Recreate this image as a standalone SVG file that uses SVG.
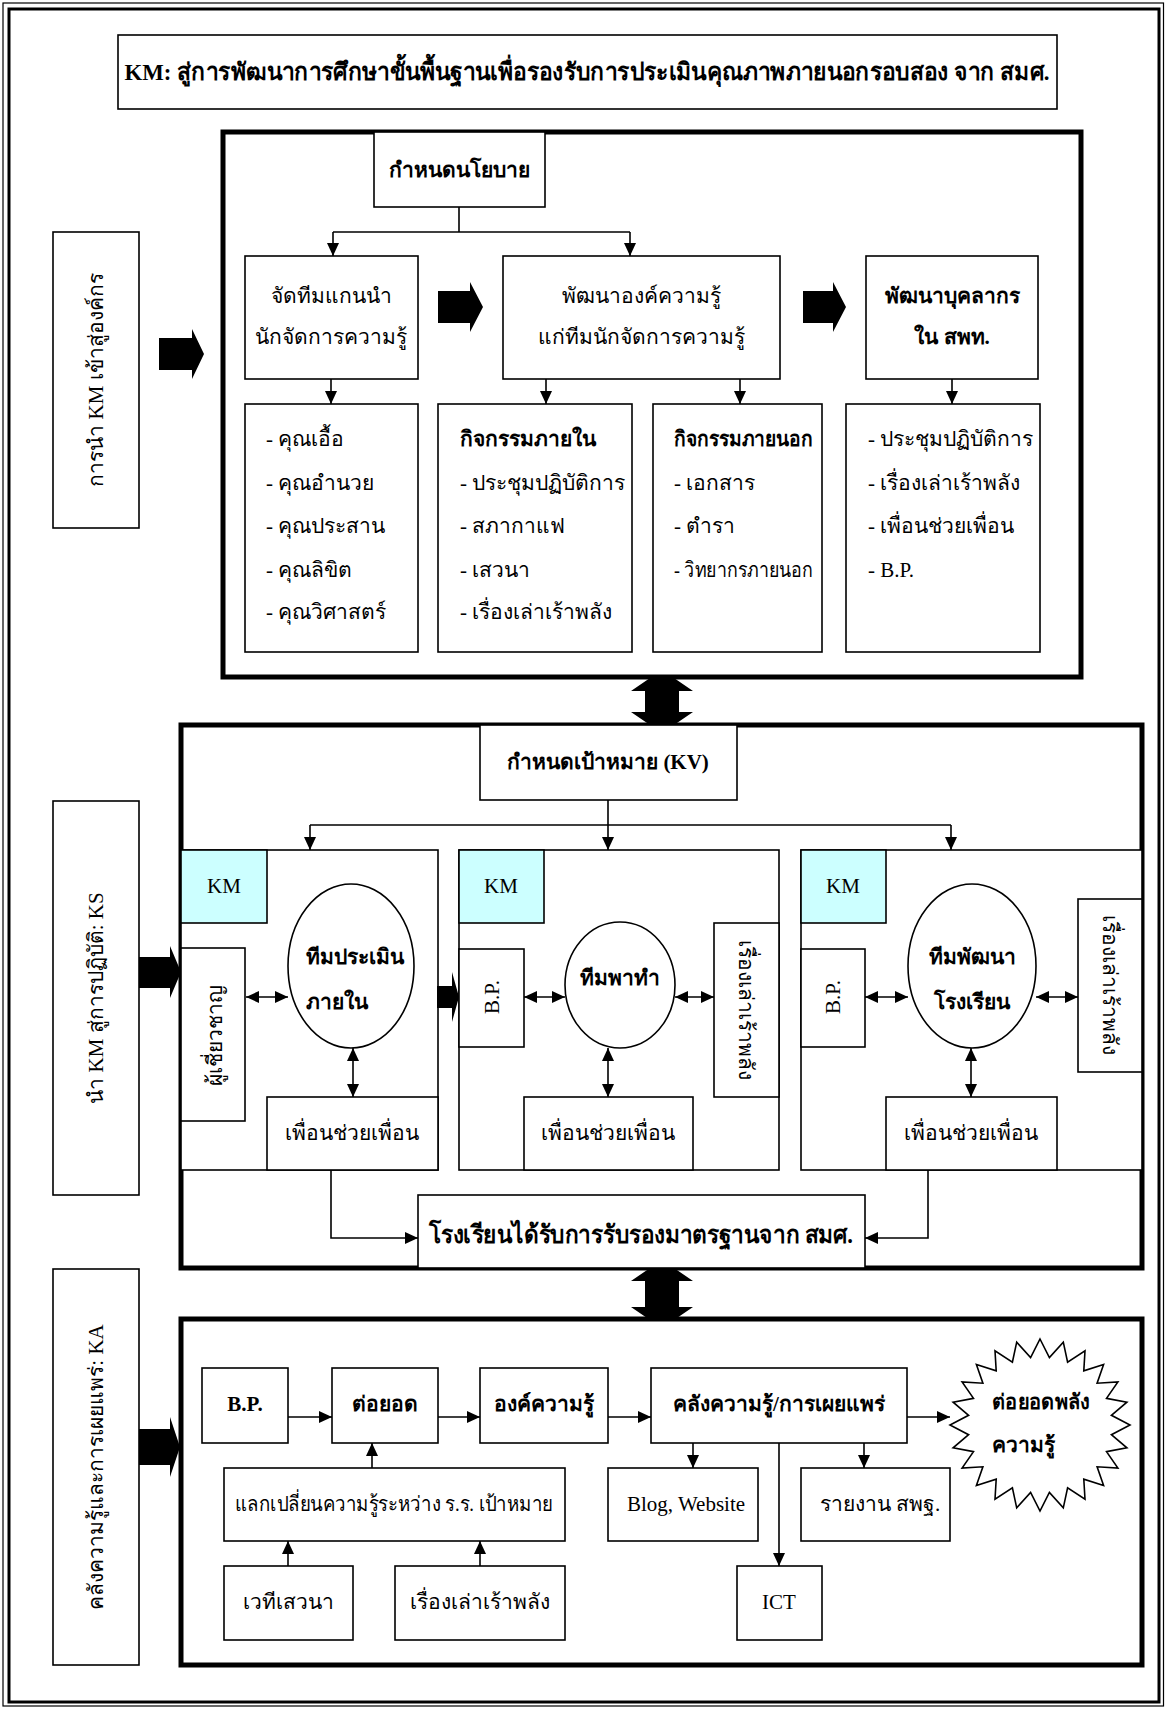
<svg xmlns="http://www.w3.org/2000/svg" width="1166" height="1709" viewBox="0 0 1166 1709">
<style>
.b{fill:#fff;stroke:#000;stroke-width:1.6}
.tk{fill:#fff;stroke:#000;stroke-width:5}
.km{fill:#ccffff;stroke:#000;stroke-width:1.6}
.c{fill:none;stroke:#000;stroke-width:1.6}
.ca{fill:none;stroke:#000;stroke-width:1.6;marker-end:url(#ah)}
.cd{fill:none;stroke:#000;stroke-width:1.6;marker-start:url(#ah);marker-end:url(#ah)}
.ba{fill:#000;stroke:none}
text{font-family:'Liberation Serif',serif;font-size:21px;fill:#000;dominant-baseline:central}
.m{text-anchor:middle}
.bd{font-weight:bold}
</style>
<defs>
<marker id="ah" markerUnits="userSpaceOnUse" markerWidth="13" markerHeight="12" refX="13" refY="6" orient="auto-start-reverse" viewBox="0 0 13 12"><path d="M0,0 L13,6 L0,12 Z" fill="#000"/></marker>
</defs>
<rect x="0" y="0" width="1166" height="1709" fill="#fff"/>
<!-- frame -->
<rect x="3" y="3" width="1160.5" height="1703" fill="none" stroke="#000" stroke-width="1.2"/>
<rect x="9" y="9" width="1150" height="1693" fill="none" stroke="#000" stroke-width="3"/>

<g id="title"><rect class="b" x="118" y="35" width="939" height="74"/><text class="m bd" x="587" y="72" style="font-size:24px" textLength="925" lengthAdjust="spacingAndGlyphs">KM: สู่การพัฒนาการศึกษาขั้นพื้นฐานเพื่อรองรับการประเมินคุณภาพภายนอกรอบสอง จาก สมศ.</text></g>

<!-- Section 1 -->
<g id="label1"><rect class="b" x="53" y="232" width="86" height="296"/><text class="m" transform="translate(96 380) rotate(-90)" x="0" y="0">การนำ KM เข้าสู่องค์กร</text></g>
<g id="sec1"><rect class="tk" x="223" y="132" width="858" height="545"/></g>
<g id="policy"><rect class="b" x="374" y="132" width="171" height="75"/><text class="m bd" x="459" y="170">กำหนดนโยบาย</text></g>
<g id="team"><rect class="b" x="245" y="256" width="173" height="123"/><text class="m" x="331" y="296">จัดทีมแกนนำ</text><text class="m" x="331" y="337">นักจัดการความรู้</text></g>
<g id="devknow"><rect class="b" x="503" y="256" width="277" height="123"/><text class="m" x="641" y="296">พัฒนาองค์ความรู้</text><text class="m" x="641" y="337">แก่ทีมนักจัดการความรู้</text></g>
<g id="devstaff"><rect class="b" x="866" y="256" width="172" height="123"/><text class="m bd" x="952" y="296">พัฒนาบุคลากร</text><text class="m bd" x="952" y="337">ใน สพท.</text></g>
<g id="list1"><rect class="b" x="245" y="404" width="173" height="248"/>
<text x="266" y="439">- คุณเอื้อ</text><text x="266" y="483">- คุณอำนวย</text><text x="266" y="526">- คุณประสาน</text><text x="266" y="570">- คุณลิขิต</text><text x="266" y="612">- คุณวิศาสตร์</text></g>
<g id="list2"><rect class="b" x="438" y="404" width="194" height="248"/>
<text class="bd" x="460" y="439">กิจกรรมภายใน</text><text x="460" y="483">- ประชุมปฏิบัติการ</text><text x="460" y="526">- สภากาแฟ</text><text x="460" y="570">- เสวนา</text><text x="460" y="612">- เรื่องเล่าเร้าพลัง</text></g>
<g id="list3"><rect class="b" x="653" y="404" width="169" height="248"/>
<text class="bd" x="674" y="439" textLength="139" lengthAdjust="spacingAndGlyphs">กิจกรรมภายนอก</text><text x="674" y="483">- เอกสาร</text><text x="674" y="526">- ตำรา</text><text x="674" y="570" textLength="139" lengthAdjust="spacingAndGlyphs">- วิทยากรภายนอก</text></g>
<g id="list4"><rect class="b" x="846" y="404" width="194" height="248"/>
<text x="868" y="439">- ประชุมปฏิบัติการ</text><text x="868" y="483">- เรื่องเล่าเร้าพลัง</text><text x="868" y="526">- เพื่อนช่วยเพื่อน</text><text x="868" y="570">- B.P.</text></g>

<!-- Section 2 -->
<g id="label2"><rect class="b" x="53" y="801" width="86" height="394"/><text class="m" transform="translate(96 998) rotate(-90)" x="0" y="0">นำ KM สู่การปฏิบัติ: KS</text></g>
<g id="sec2"><rect class="tk" x="181" y="725" width="961" height="543"/></g>
<g id="kv"><rect class="b" x="480" y="725" width="257" height="75"/><text class="m bd" x="608" y="762">กำหนดเป้าหมาย (KV)</text></g>
<g id="panel1"><rect class="b" x="181" y="850" width="257" height="320"/><rect class="km" x="181" y="850" width="86" height="73"/><text class="m" x="224" y="886">KM</text></g>
<g id="panel2"><rect class="b" x="459" y="850" width="320" height="320"/><rect class="km" x="459" y="850" width="85" height="73"/><text class="m" x="501" y="886">KM</text></g>
<g id="panel3"><rect class="b" x="801" y="850" width="341" height="320"/><rect class="km" x="801" y="850" width="85" height="73"/><text class="m" x="843" y="886">KM</text></g>
<g id="expert"><rect class="b" x="181" y="948" width="64" height="173"/><text class="m" transform="translate(215 1035) rotate(-90)" x="0" y="0">ผู้เชี่ยวชาญ</text></g>
<g id="evalteam"><ellipse class="b" cx="351" cy="966" rx="63" ry="82"/><text class="bd" x="306" y="957">ทีมประเมิน</text><text class="bd" x="306" y="1002">ภายใน</text></g>
<g id="peer1"><rect class="b" x="267" y="1097" width="171" height="73"/><text class="m" x="352" y="1133">เพื่อนช่วยเพื่อน</text></g>
<g id="bp2"><rect class="b" x="459" y="949" width="65" height="98"/><text class="m" transform="translate(492 997) rotate(-90)" x="0" y="0">B.P.</text></g>
<g id="leadteam"><ellipse class="b" cx="620" cy="985" rx="55" ry="63"/><text class="m bd" x="620" y="978">ทีมพาทำ</text></g>
<g id="story2"><rect class="b" x="714" y="923" width="65" height="174"/><text class="m" transform="translate(746 1010) rotate(90)" x="0" y="0">เรื่องเล่าเร้าพลัง</text></g>
<g id="peer2"><rect class="b" x="524" y="1097" width="169" height="73"/><text class="m" x="608" y="1133">เพื่อนช่วยเพื่อน</text></g>
<g id="bp3"><rect class="b" x="801" y="949" width="64" height="98"/><text class="m" transform="translate(833 997) rotate(-90)" x="0" y="0">B.P.</text></g>
<g id="schoolteam"><ellipse class="b" cx="972" cy="966" rx="64" ry="82"/><text class="m bd" x="972" y="957">ทีมพัฒนา</text><text class="m bd" x="972" y="1002">โรงเรียน</text></g>
<g id="story3"><rect class="b" x="1078" y="899" width="64" height="173"/><text class="m" transform="translate(1110 985) rotate(90)" x="0" y="0">เรื่องเล่าเร้าพลัง</text></g>
<g id="peer3"><rect class="b" x="886" y="1097" width="171" height="73"/><text class="m" x="971" y="1133">เพื่อนช่วยเพื่อน</text></g>
<g id="certified"><rect class="b" x="418" y="1195" width="447" height="73"/><text class="m bd" x="641" y="1234" style="font-size:25px" textLength="424" lengthAdjust="spacingAndGlyphs">โรงเรียนได้รับการรับรองมาตรฐานจาก สมศ.</text></g>

<!-- Section 3 -->
<g id="label3"><rect class="b" x="53" y="1269" width="86" height="396"/><text class="m" transform="translate(96 1467) rotate(-90)" x="0" y="0">คลังความรู้และการเผยแพร่: KA</text></g>
<g id="sec3"><rect class="tk" x="181" y="1319" width="961" height="346"/></g>
<g id="bp"><rect class="b" x="202" y="1368" width="86" height="75"/><text class="m bd" x="245" y="1404">B.P.</text></g>
<g id="extend"><rect class="b" x="332" y="1368" width="106" height="75"/><text class="m bd" x="385" y="1404">ต่อยอด</text></g>
<g id="body"><rect class="b" x="480" y="1368" width="128" height="75"/><text class="m bd" x="544" y="1404">องค์ความรู้</text></g>
<g id="store"><rect class="b" x="651" y="1368" width="256" height="75"/><text class="m bd" x="779" y="1404">คลังความรู้/การเผยแพร่</text></g>
<g id="star"><polygon class="b" points="1040,1339 1049.4,1357.6 1063.3,1342.1 1067.6,1362.1 1085,1350.8 1083.8,1370.8 1103.6,1364.6 1097.1,1383.2 1117.9,1382 1106.5,1398.4 1126.9,1402.2 1111.4,1415.3 1130,1425 1111.4,1434.7 1126.9,1447.8 1106.5,1451.6 1117.9,1468 1097.1,1466.8 1103.6,1485.4 1083.8,1479.2 1085,1499.2 1067.6,1487.9 1063.3,1507.9 1049.4,1492.4 1040,1511 1030.6,1492.4 1016.7,1507.9 1012.4,1487.9 995,1499.2 996.2,1479.2 976.4,1485.4 982.9,1466.8 962.1,1468 973.5,1451.6 953.1,1447.8 968.6,1434.7 950,1425 968.6,1415.3 953.1,1402.2 973.5,1398.4 962.1,1382 982.9,1383.2 976.4,1364.6 996.2,1370.8 995,1350.8 1012.4,1362.1 1016.7,1342.1 1030.6,1357.6"/><text class="bd" x="992" y="1402" textLength="98" lengthAdjust="spacingAndGlyphs">ต่อยอดพลัง</text><text class="bd" x="992" y="1445">ความรู้</text></g>
<g id="exchange"><rect class="b" x="224" y="1468" width="341" height="73"/><text class="m" x="394" y="1504" textLength="318" lengthAdjust="spacingAndGlyphs">แลกเปลี่ยนความรู้ระหว่าง ร.ร. เป้าหมาย</text></g>
<g id="forum"><rect class="b" x="224" y="1566" width="129" height="74"/><text class="m" x="288" y="1602">เวทีเสวนา</text></g>
<g id="story"><rect class="b" x="395" y="1566" width="170" height="74"/><text class="m" x="480" y="1602">เรื่องเล่าเร้าพลัง</text></g>
<g id="blog"><rect class="b" x="608" y="1468" width="150" height="73"/><text class="m" x="686" y="1504">Blog, Website</text></g>
<g id="report"><rect class="b" x="801" y="1468" width="149" height="73"/><text class="m" x="880" y="1504">รายงาน สพฐ.</text></g>
<g id="ict"><rect class="b" x="737" y="1566" width="85" height="74"/><text class="m" x="779" y="1602">ICT</text></g>

<!-- connectors -->
<g id="connectors">
<path class="c" d="M459,207 V232 M333,232 H630"/>
<path class="ca" d="M333,232 V256"/>
<path class="ca" d="M630,232 V256"/>
<path class="ca" d="M331,379 V404"/>
<path class="ca" d="M546,379 V404"/>
<path class="ca" d="M740,379 V404"/>
<path class="ca" d="M952,379 V404"/>
<path class="ba" d="M159,338 H192 V329 L204,354 L192,379 V370 H159 Z"/>
<path class="ba" d="M438,291 H470 V282 L483,307 L470,332 V323 H438 Z"/>
<path class="ba" d="M803,291 H833 V282 L846,307 L833,332 V323 H803 Z"/>
<path class="ba" d="M645,691 H631 L650,678 H674 L693,691 H679 V712 H693 L674,725 H650 L631,712 H645 Z"/>
<path class="c" d="M608,800 V825 M310,825 H951"/>
<path class="ca" d="M310,825 V850"/>
<path class="ca" d="M608,825 V850"/>
<path class="ca" d="M951,825 V850"/>
<path class="ba" d="M139,957 H170 V946 L181,972 L170,998 V988 H139 Z"/>
<path class="ba" d="M437,986 H452 V972 L459,997 L452,1022 V1008 H437 Z"/>
<path class="cd" d="M246,997 H288"/>
<path class="cd" d="M353,1048 V1097"/>
<path class="cd" d="M524,997 H565"/>
<path class="cd" d="M675,997 H714"/>
<path class="cd" d="M608,1048 V1097"/>
<path class="cd" d="M865,997 H908"/>
<path class="cd" d="M1036,997 H1078"/>
<path class="cd" d="M971,1048 V1097"/>
<path class="ca" d="M331,1170 V1238 H418"/>
<path class="ca" d="M928,1170 V1238 H865"/>
<path class="ba" d="M645,1281 H631 L650,1268 H674 L693,1281 H679 V1307 H693 L674,1320 H650 L631,1307 H645 Z"/>
<path class="ba" d="M139,1429 H170 V1417 L180,1447 L170,1477 V1465 H139 Z"/>
<path class="ca" d="M288,1417 H332"/>
<path class="ca" d="M438,1417 H480"/>
<path class="ca" d="M608,1417 H651"/>
<path class="ca" d="M907,1417 H950"/>
<path class="ca" d="M372,1468 V1443"/>
<path class="ca" d="M288,1566 V1541"/>
<path class="ca" d="M480,1566 V1541"/>
<path class="ca" d="M693,1443 V1468"/>
<path class="ca" d="M864,1443 V1468"/>
<path class="ca" d="M779,1443 V1566"/>
</g>
</svg>
